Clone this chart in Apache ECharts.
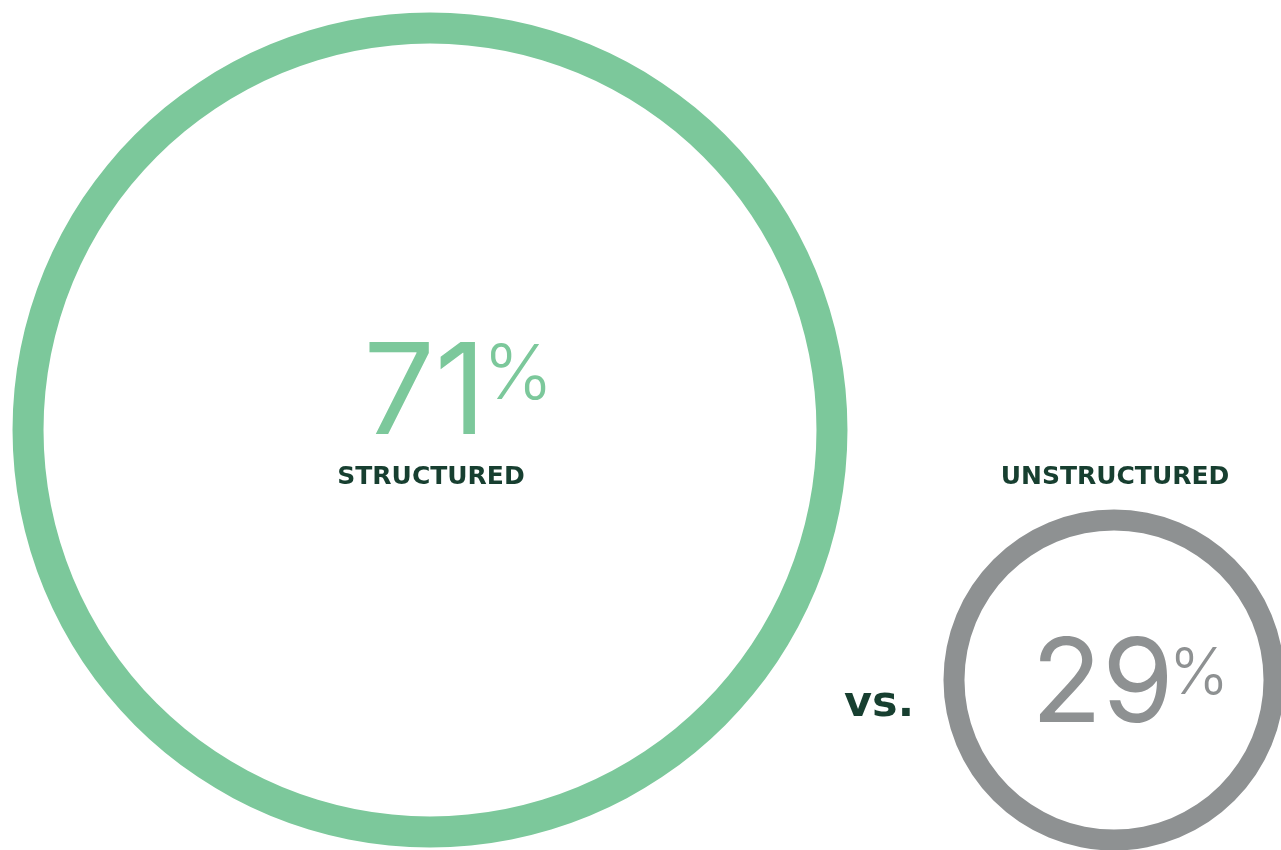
<!DOCTYPE html>
<html><head><meta charset="utf-8">
<script src="https://cdn.jsdelivr.net/npm/echarts@6/dist/echarts.min.js"></script>
<style>html,body{margin:0;padding:0;background:#fff}#c{width:1281px;height:850px}</style>
</head><body><div id="c"></div>
<script>
const categories = ['STRUCTURED', 'UNSTRUCTURED'];
const shares = [71, 29];
const unitLabel = '%';
const joinWord = 'vs.';

const colors = ['#7cc89b', '#8e9192'];
const textDark = '#173f30';
const pxPerUnit = 5.88;          // outer radius scale (px per percentage point)
const ringWidths = [31, 21];
const centers = [[430, 430], [1114, 680]];

const chart = echarts.init(document.getElementById('c'), null, {renderer: 'canvas'});

const series = shares.map((v, i) => {
  const outer = v * pxPerUnit;
  return {
    type: 'pie',
    silent: true,
    center: centers[i],
    radius: [outer - ringWidths[i], outer],
    label: {show: false},
    labelLine: {show: false},
    emphasis: {disabled: true},
    itemStyle: {color: colors[i], borderWidth: 0},
    data: [{name: categories[i], value: v}],
    animation: false
  };
});

const graphic = [
  {type: 'text', x: 486, y: 459, style: {text: String(shares[0]), font: '400 126px Inter', fill: colors[0], textAlign: 'right', textVerticalAlign: 'bottom'}},
  {type: 'text', x: 483, y: 339, style: {text: unitLabel, font: '300 75px Inter', fill: colors[0], textAlign: 'left', textVerticalAlign: 'top'}},
  {type: 'text', x: 431, y: 477, style: {text: categories[0], font: 'bold 25px "DejaVu Sans"', fill: textDark, textAlign: 'center', textVerticalAlign: 'middle'}},
  {type: 'text', x: 1115, y: 477, style: {text: categories[1], font: 'bold 25px "DejaVu Sans"', fill: textDark, textAlign: 'center', textVerticalAlign: 'middle'}},
  {type: 'text', x: 1174, y: 745, style: {text: String(shares[1]), font: '400 116px Inter', fill: colors[1], textAlign: 'right', textVerticalAlign: 'bottom'}},
  {type: 'text', x: 1169, y: 643, style: {text: unitLabel, font: '300 64px Inter', fill: colors[1], textAlign: 'left', textVerticalAlign: 'top'}},
  {type: 'text', x: 879, y: 705, style: {text: joinWord, font: 'bold 43px "DejaVu Sans"', fill: textDark, textAlign: 'center', textVerticalAlign: 'middle'}}
];

chart.setOption({
  animation: false,
  backgroundColor: '#ffffff',
  series: series,
  graphic: graphic
});
</script></body></html>
